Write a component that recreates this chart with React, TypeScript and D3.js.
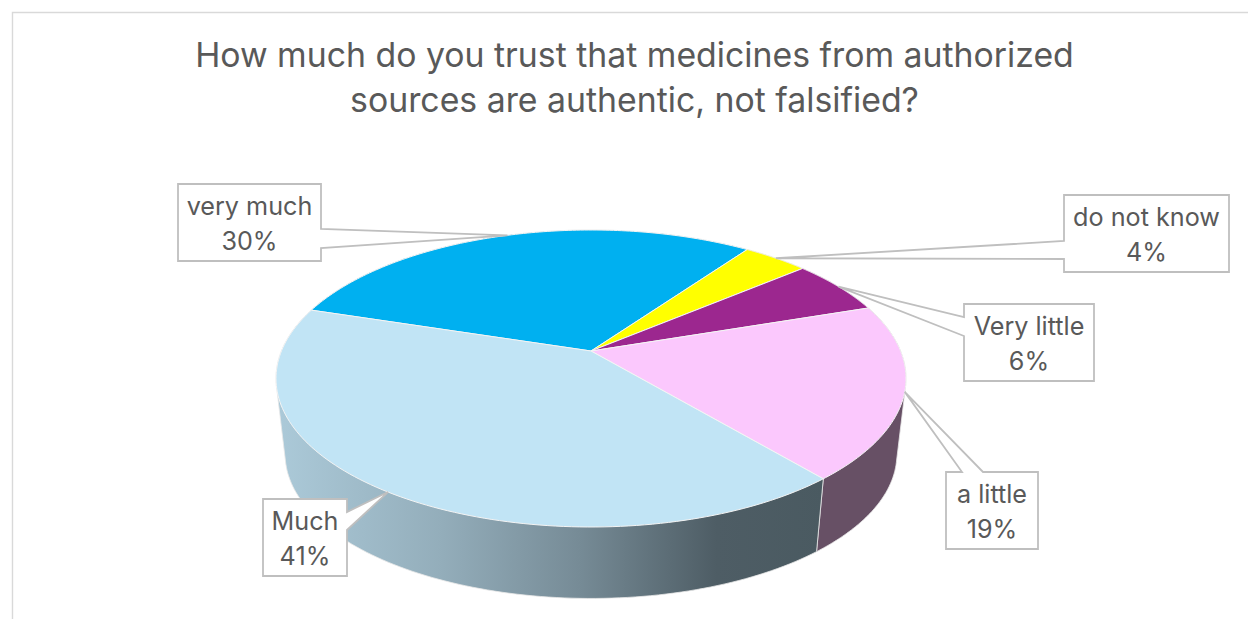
import React from "react";
import * as d3 from "d3";

const categories = ["very much", "do not know", "Very little", "a little", "Much"];
const shares = [30, 4, 6, 19, 41];
const topColors = ["#00b0f0", "#ffff00", "#9c278f", "#fbc8fd", "#c1e4f5"];
const wallColors = ["#006f98", "#a0a000", "#61185a", "#675065", "url(#muchWall)"];
const titleLines = [
  "How much do you trust that medicines from authorized",
  "sources are authentic, not falsified?",
];

const W = 1248;
const H = 619;
const FONT = "Inter, 'Open Sans', sans-serif";
const TEXT = "#595959";

// Perspective view of the pie's unit disc: (u, v) in disc space, v pointing away.
const CX = 591;
const APEX_Y = 351;
const FAR_Y = 230;
const NEAR_Y = 527;
const HALF_W = 315;
const K = (FAR_Y + NEAR_Y - 2 * APEX_Y) / (NEAR_Y - FAR_Y);
const A = FAR_Y * (1 + K) - APEX_Y;
const U_SCALE = HALF_W * Math.sqrt(1 - K * K);
const project = (angle: number): [number, number] => {
  const u = Math.sin(angle);
  const v = Math.cos(angle);
  const w = 1 + K * v;
  return [CX + (U_SCALE * u) / w, (APEX_Y + A * v) / w];
};

// The base rim is the top rim shrunk towards the vanishing point of the verticals.
const VANISH_Y = 2870;
const BASE_SCALE = 0.971;
const down = ([x, y]: [number, number]): [number, number] => [
  CX + (x - CX) * BASE_SCALE,
  VANISH_Y + (y - VANISH_Y) * BASE_SCALE + 3.5,
];

const START = (-72.5 * Math.PI) / 180;
const arcs = d3
  .pie<number>()
  .sort(null)
  .startAngle(START)
  .endAngle(START + 2 * Math.PI)(shares);

const rim = (a0: number, a1: number) =>
  d3.range(0, 121).map((i) => project(a0 + ((a1 - a0) * i) / 120));
const line = d3.line();

type Box = {
  x: number;
  y: number;
  w: number;
  h: number;
  side: "left" | "right" | "top";
  at: [number, number];
};
// Callout boxes, in the same order as the categories.
const boxes: Box[] = [
  { x: 178, y: 184, w: 143, h: 77, side: "right", at: [229, 248] },
  { x: 1064, y: 195, w: 165, h: 77, side: "left", at: [241, 259] },
  { x: 964, y: 304, w: 130, h: 77, side: "left", at: [317, 336] },
  { x: 946, y: 472, w: 92, h: 77, side: "top", at: [962, 983] },
  { x: 263, y: 499, w: 84, h: 77, side: "right", at: [512, 530] },
];

const calloutPath = (b: Box, tip: [number, number]) => {
  const r = b.x + b.w;
  const q = b.y + b.h;
  const [a, c] = b.at;
  const pts: [number, number][] =
    b.side === "right"
      ? [[b.x, b.y], [r, b.y], [r, a], tip, [r, c], [r, q], [b.x, q]]
      : b.side === "left"
        ? [[b.x, b.y], [r, b.y], [r, q], [b.x, q], [b.x, c], tip, [b.x, a]]
        : [[b.x, b.y], [a, b.y], tip, [c, b.y], [r, b.y], [r, q], [b.x, q]];
  return line(pts) + "Z";
};

export default function App() {
  return (
    <svg
      width={W}
      height={H}
      viewBox={`0 0 ${W} ${H}`}
      style={{ position: "absolute", left: 0, top: 0, background: "#fff" }}
    >
      <defs>
        <linearGradient id="muchWall" gradientUnits="userSpaceOnUse" x1={280} x2={825} y1={0} y2={0}>
          <stop offset="0" stopColor="#abc9d8" />
          <stop offset="0.3" stopColor="#93adba" />
          <stop offset="0.55" stopColor="#768b96" />
          <stop offset="0.8" stopColor="#4e5d65" />
          <stop offset="1" stopColor="#4a5a61" />
        </linearGradient>
      </defs>

      <path d={`M12.5 619V12.5H${W}`} fill="none" stroke="#d9d9d9" strokeWidth={1.4} />

      {titleLines.map((t, i) => (
        <text
          key={t}
          x={634.5}
          y={67 + i * 45}
          textAnchor="middle"
          fontFamily={FONT}
          fontSize={33.8}
          fill={TEXT}
        >
          {t}
        </text>
      ))}

      {/* Each wall is the hull of its two rim arcs, so the silhouette reaches the tangents. */}
      {arcs.map((a, i) => {
        const top = rim(a.startAngle, a.endAngle);
        const hull = d3.polygonHull([...top, ...top.map(down)]);
        return (
          <path
            key={`wall-${i}`}
            d={line(hull ?? []) + "Z"}
            fill={wallColors[i]}
            stroke="#e8e8e8"
            strokeWidth={0.8}
          />
        );
      })}

      {arcs.map((a, i) => (
        <path
          key={`top-${i}`}
          d={line([[CX, APEX_Y], ...rim(a.startAngle, a.endAngle)]) + "Z"}
          fill={topColors[i]}
          stroke="#f4f4f4"
          strokeWidth={1}
          strokeLinejoin="round"
        />
      ))}

      {arcs.map((a, i) => {
        const b = boxes[i];
        const tip = project((a.startAngle + a.endAngle) / 2);
        return (
          <g key={categories[i]}>
            <path d={calloutPath(b, tip)} fill="#fff" stroke="#bfbfbf" strokeWidth={1.8} />
            <text fontFamily={FONT} fontSize={25.2} fill={TEXT} textAnchor="middle">
              <tspan x={b.x + b.w / 2} y={b.y + 31}>
                {categories[i]}
              </tspan>
              <tspan x={b.x + b.w / 2} y={b.y + 66}>
                {shares[i]}%
              </tspan>
            </text>
          </g>
        );
      })}
    </svg>
  );
}
